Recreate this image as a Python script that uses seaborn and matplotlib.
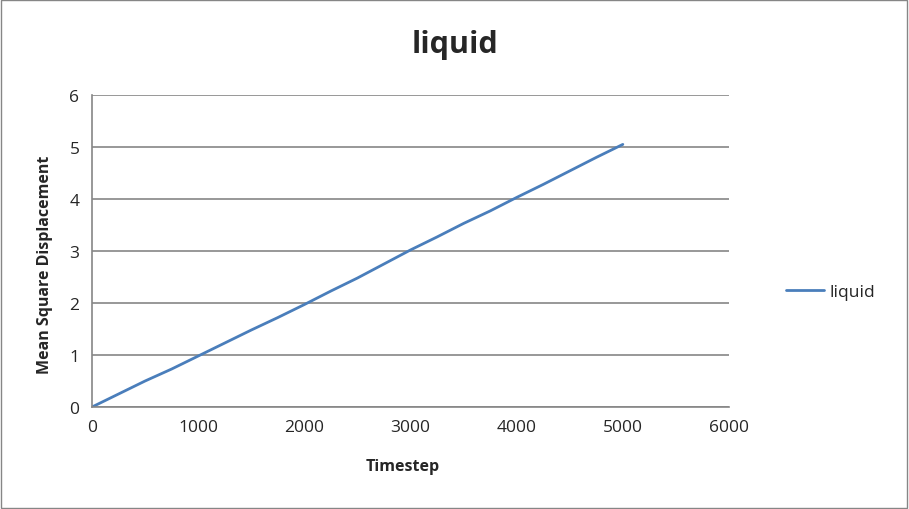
import numpy as np
import pandas as pd
import matplotlib
matplotlib.use("Agg")
import matplotlib.pyplot as plt
import seaborn as sns

# values
timestep = [0, 250, 500, 750, 1000, 1250, 1500, 1750, 2000, 2250, 2500,
            2750, 3000, 3250, 3500, 3750, 4000, 4250, 4500, 4750, 5000]
msd = [0.0, 0.25, 0.50, 0.73, 0.98, 1.23, 1.48, 1.72, 1.97, 2.23, 2.48,
       2.75, 3.02, 3.27, 3.53, 3.77, 4.03, 4.28, 4.54, 4.80, 5.05]

df = pd.DataFrame({"Timestep": timestep, "MSD": msd, "series": "liquid"})

sns.set_style("white")
plt.rcParams['font.family'] = ['Open Sans', 'DejaVu Sans']

fig = plt.figure(figsize=(9.09, 5.10), dpi=100)
ax = fig.add_axes([92/909, 102/510, 637/909, 312/510])

sns.lineplot(data=df, x="Timestep", y="MSD", hue="series",
             palette=["#4a7ebb"], linewidth=2, ax=ax, legend=True)

ax.set_xlim(0, 6000)
ax.set_ylim(0, 6)
ax.set_xticks(range(0, 6001, 1000))
ax.set_yticks(range(0, 7))
ax.grid(axis="y", color="#868686", linewidth=1.2)
ax.set_axisbelow(True)
for s in ["top", "right"]:
    ax.spines[s].set_visible(False)
for s in ["left", "bottom"]:
    ax.spines[s].set_color("#868686")
    ax.spines[s].set_linewidth(1.2)
ax.tick_params(axis="both", direction="out", length=5, width=1.2,
               color="#868686", labelsize=12.5, pad=4)

ax.set_xlabel("")
ax.set_ylabel("")
fig.text(403/909, 1 - 467/510, "Timestep", fontsize=11.5, fontweight="bold",
         ha="center", va="center")
fig.text(45/909, 1 - 265/510, "Mean Square Displacement", fontsize=11.5,
         fontweight="bold", ha="center", va="center", rotation=90)
fig.text(455/909, 1 - 45/510, "liquid", fontsize=22, fontweight="bold",
         ha="center", va="center")

leg = ax.legend(loc="center left", bbox_to_anchor=(1.065, 0.37), frameon=False,
                fontsize=12.5, handlelength=2.2, handletextpad=0.3)

# outer chart border
fig.patches.append(plt.Rectangle((0.001, 0.002), 0.997, 0.996, fill=False,
                                 edgecolor="#868686", linewidth=1,
                                 transform=fig.transFigure, figure=fig))

fig.savefig("out.png", dpi=100)
